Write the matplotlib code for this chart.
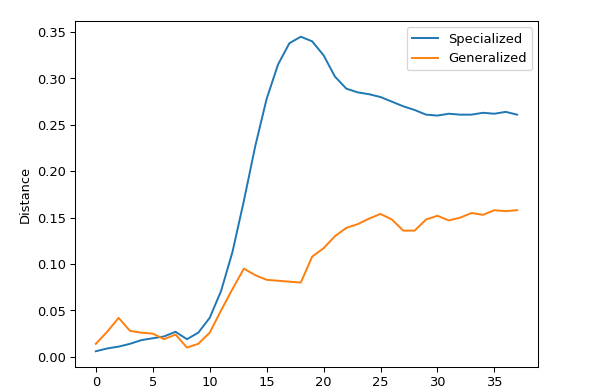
import matplotlib
matplotlib.use("Agg")
import matplotlib.pyplot as plt

# values
steps = list(range(38))
specialized = [
    0.006, 0.009, 0.011, 0.014, 0.018, 0.020, 0.022, 0.027, 0.019, 0.026,
    0.042, 0.071, 0.113, 0.168, 0.227, 0.278, 0.315, 0.338, 0.345, 0.340,
    0.325, 0.302, 0.289, 0.285, 0.283, 0.280, 0.275, 0.270, 0.266, 0.261,
    0.260, 0.262, 0.261, 0.261, 0.263, 0.262, 0.264, 0.261,
]
generalized = [
    0.014, 0.027, 0.042, 0.028, 0.026, 0.025, 0.019, 0.024, 0.010, 0.014,
    0.026, 0.050, 0.073, 0.095, 0.088, 0.083, 0.082, 0.081, 0.080, 0.108,
    0.117, 0.130, 0.139, 0.143, 0.149, 0.154, 0.148, 0.136, 0.136, 0.148,
    0.152, 0.147, 0.150, 0.155, 0.153, 0.158, 0.157, 0.158,
]

DPI = 93.44
fig, ax = plt.subplots(figsize=(6.4, 4.186), dpi=DPI)
fig.subplots_adjust(left=0.125, right=0.9, top=0.946, bottom=0.0614)

ax.plot(steps, specialized, label="Specialized")
ax.plot(steps, generalized, label="Generalized")
ax.set_ylabel("Distance")
ax.legend(loc="upper right")

fig.savefig("out.png", dpi=DPI)
